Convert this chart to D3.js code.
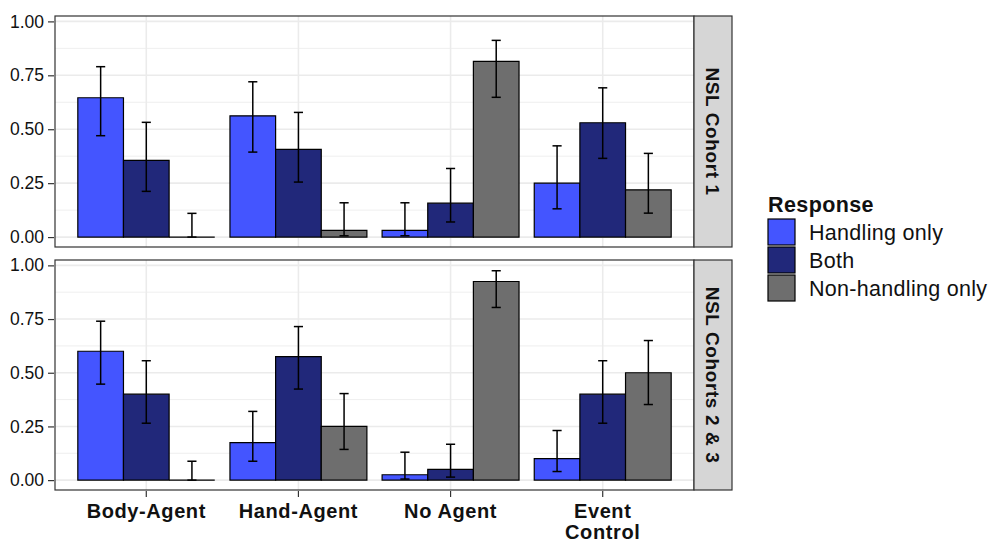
<!DOCTYPE html>
<html>
<head>
<meta charset="utf-8">
<script src="https://cdn.jsdelivr.net/npm/d3@7"></script>
<style>
  html, body { margin: 0; padding: 0; background: #fff; }
  svg { display: block; font-family: "Liberation Sans", Arial, sans-serif; }
</style>
</head>
<body>
<svg id="chart" width="993" height="542"></svg>
<script>
// Conditions on the x axis (multi-line labels split on "\n")
const conditions = ["Body-Agent", "Hand-Agent", "No Agent", "Event\nControl"];
const responses = ["Handling only", "Both", "Non-handling only"];
const responseColors = ["#4455FF", "#21287A", "#6E6E6E"];
const cohorts = ["NSL Cohort 1", "NSL Cohorts 2 & 3"];
const yTicks = [0, 0.25, 0.5, 0.75, 1];
const yMinor = [0.125, 0.375, 0.625, 0.875];

// Proportions per condition, one row per response (Cohort 1)
const cohort1Mean = [
  [0.646, 0.562, 0.031, 0.250],
  [0.356, 0.407, 0.157, 0.530],
  [0.000, 0.031, 0.815, 0.219]
];
const cohort1Low = [
  [0.470, 0.394, 0.006, 0.131],
  [0.212, 0.255, 0.070, 0.365],
  [0.000, 0.006, 0.648, 0.111]
];
const cohort1High = [
  [0.790, 0.720, 0.159, 0.423],
  [0.532, 0.578, 0.318, 0.692],
  [0.110, 0.159, 0.912, 0.388]
];

// Cohorts 2 & 3
const cohort23Mean = [
  [0.600, 0.175, 0.025, 0.100],
  [0.400, 0.575, 0.050, 0.400],
  [0.000, 0.250, 0.925, 0.500]
];
const cohort23Low = [
  [0.447, 0.088, 0.005, 0.040],
  [0.265, 0.424, 0.014, 0.265],
  [0.000, 0.143, 0.804, 0.352]
];
const cohort23High = [
  [0.740, 0.320, 0.130, 0.231],
  [0.556, 0.715, 0.167, 0.556],
  [0.088, 0.403, 0.975, 0.650]
];

const panelData = [
  { label: cohorts[0], mean: cohort1Mean, low: cohort1Low, high: cohort1High },
  { label: cohorts[1], mean: cohort23Mean, low: cohort23Low, high: cohort23High }
];

const svg = d3.select("#chart");
const left = 55, right = 694, stripW = 38;
const panels = [{ top: 16, bottom: 247 }, { top: 260, bottom: 490 }];
const ink = "#111111", frame = "#333333", grid = "#EBEBEB";
const font = "'Liberation Sans', Arial, sans-serif";

const x = d3.scaleBand().domain(conditions).range([left, right]).paddingInner(0).paddingOuter(0.1);
const xs = d3.scaleBand().domain(responses)
  .range([x.bandwidth() * 0.05, x.bandwidth() * 0.95]);

panelData.forEach((pd, pi) => {
  const p = panels[pi];
  const y = d3.scaleLinear().domain([-0.046, 1.025]).range([p.bottom, p.top]);
  const g = svg.append("g");

  // background grid
  g.selectAll("line.minor").data(yMinor).join("line")
    .attr("x1", left).attr("x2", right)
    .attr("y1", d => y(d)).attr("y2", d => y(d))
    .attr("stroke", grid).attr("stroke-width", 0.8);
  g.selectAll("line.major").data(yTicks).join("line")
    .attr("x1", left).attr("x2", right)
    .attr("y1", d => y(d)).attr("y2", d => y(d))
    .attr("stroke", grid).attr("stroke-width", 1.6);
  g.selectAll("line.vmajor").data(conditions).join("line")
    .attr("x1", d => x(d) + x.bandwidth() / 2).attr("x2", d => x(d) + x.bandwidth() / 2)
    .attr("y1", p.top).attr("y2", p.bottom)
    .attr("stroke", grid).attr("stroke-width", 1.6);

  // bars (drawn as closed paths so zero-height bars still show their outline)
  const rows = [];
  responses.forEach((r, ri) => conditions.forEach((c, ci) => rows.push({
    r, c, ri, v: pd.mean[ri][ci], lo: pd.low[ri][ci], hi: pd.high[ri][ci]
  })));

  g.selectAll("path.bar").data(rows).join("path")
    .attr("d", d => {
      const x0 = x(d.c) + xs(d.r), x1 = x0 + xs.bandwidth();
      const y0 = y(0), y1 = y(d.v);
      return `M${x0},${y0}L${x0},${y1}L${x1},${y1}L${x1},${y0}Z`;
    })
    .attr("fill", d => responseColors[d.ri])
    .attr("stroke", "#000").attr("stroke-width", 1.2);

  // error bars
  const cap = xs.bandwidth() * 0.2;
  const eb = g.selectAll("g.eb").data(rows).join("g")
    .attr("transform", d => `translate(${x(d.c) + xs(d.r) + xs.bandwidth() / 2},0)`);
  eb.append("line").attr("y1", d => y(d.lo)).attr("y2", d => y(d.hi))
    .attr("stroke", "#000").attr("stroke-width", 1.5);
  eb.append("line").attr("x1", -cap / 2).attr("x2", cap / 2)
    .attr("y1", d => y(d.hi)).attr("y2", d => y(d.hi))
    .attr("stroke", "#000").attr("stroke-width", 1.5);
  eb.append("line").attr("x1", -cap / 2).attr("x2", cap / 2)
    .attr("y1", d => y(d.lo)).attr("y2", d => y(d.lo))
    .attr("stroke", "#000").attr("stroke-width", 1.5);

  // panel frame
  g.append("rect").attr("x", left).attr("y", p.top)
    .attr("width", right - left).attr("height", p.bottom - p.top)
    .attr("fill", "none").attr("stroke", frame).attr("stroke-width", 1.2);

  // y axis
  const yAxis = d3.axisLeft(y).tickValues(yTicks).tickFormat(d3.format(".2f"))
    .tickSize(6).tickPadding(4);
  const ya = g.append("g").attr("transform", `translate(${left - 1},0)`).call(yAxis)
    .attr("font-family", font);
  ya.select(".domain").remove();
  ya.selectAll(".tick line").attr("stroke", frame).attr("stroke-width", 1.2);
  ya.selectAll(".tick text").attr("fill", ink).style("font-size", "17.5px");

  // facet strip
  g.append("rect").attr("x", right).attr("y", p.top)
    .attr("width", stripW).attr("height", p.bottom - p.top)
    .attr("fill", "#D6D6D6").attr("stroke", frame).attr("stroke-width", 1.2);
  g.append("text")
    .attr("transform", `translate(${right + stripW / 2},${(p.top + p.bottom) / 2}) rotate(90)`)
    .attr("text-anchor", "middle").attr("dy", "0.35em")
    .attr("fill", ink).style("font-size", "19px").style("font-weight", "bold")
    .style("letter-spacing", "0.6px")
    .text(pd.label);

  // x axis on the bottom panel only
  if (pi === panels.length - 1) {
    const xAxis = d3.axisBottom(x).tickSize(6).tickFormat("");
    const xa = g.append("g").attr("transform", `translate(0,${p.bottom + 1})`).call(xAxis)
      .attr("font-family", font);
    xa.select(".domain").remove();
    xa.selectAll(".tick line").attr("stroke", frame).attr("stroke-width", 1.2);
    xa.selectAll(".tick").each(function (d) {
      const lines = d.split("\n");
      const t = d3.select(this).append("text")
        .attr("text-anchor", "middle").attr("fill", ink)
        .style("font-size", "20px").style("font-weight", "bold")
        .style("letter-spacing", "0.6px");
      lines.forEach((ln, i) => t.append("tspan").attr("x", 0).attr("y", 26.5 + i * 21.5).text(ln));
    });
  }
});

// legend
const lg = svg.append("g").attr("transform", "translate(768,0)");
lg.append("text").attr("x", 0).attr("y", 212).attr("fill", ink)
  .style("font-size", "21.5px").style("font-weight", "bold").style("letter-spacing", "0.4px")
  .text("Response");
const items = lg.selectAll("g.item").data(responses).join("g")
  .attr("transform", (d, i) => `translate(0,${219 + i * 28})`);
items.append("rect").attr("width", 27).attr("height", 26)
  .attr("fill", (d, i) => responseColors[i]).attr("stroke", "#000").attr("stroke-width", 1.2);
items.append("text").attr("x", 41).attr("y", 13).attr("dy", "0.36em")
  .attr("fill", ink).style("font-size", "21.5px").style("letter-spacing", "0.3px")
  .text(d => d);
</script>
</body>
</html>
